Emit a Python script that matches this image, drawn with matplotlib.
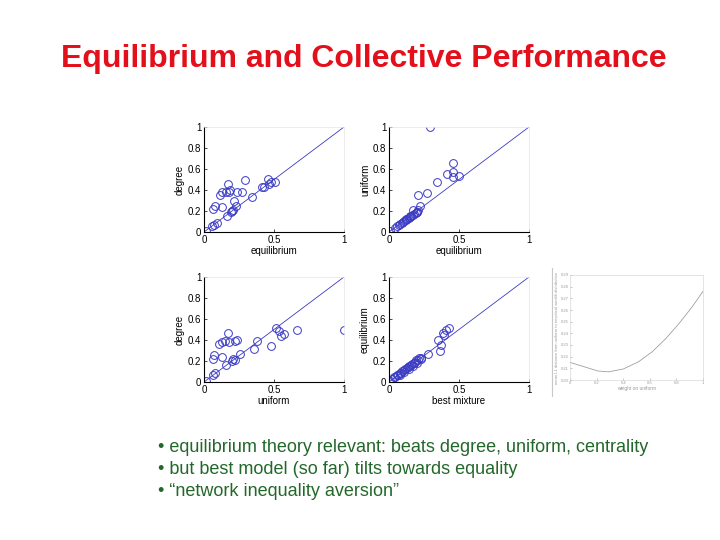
import matplotlib.pyplot as plt
from matplotlib.lines import Line2D

plt.rcParams['font.family'] = ['Liberation Sans', 'DejaVu Sans']

# panel 1: equilibrium vs degree
p1_x = [0.067, 0.079, 0.126, 0.114, 0.131, 0.155, 0.174, 0.181, 0.186, 0.238, 0.274, 0.293, 0.217, 0.226,
        0.014, 0.060, 0.074, 0.090, 0.162, 0.190, 0.202, 0.210, 0.345, 0.417, 0.430, 0.460, 0.467, 0.476, 0.507]
p1_y = [0.216, 0.248, 0.241, 0.356, 0.378, 0.384, 0.457, 0.381, 0.400, 0.384, 0.384, 0.500, 0.298, 0.250,
        0.010, 0.057, 0.067, 0.083, 0.152, 0.194, 0.203, 0.210, 0.330, 0.432, 0.432, 0.505, 0.457, 0.479, 0.479]

# panel 2: equilibrium vs uniform
p2_x = [0.293, 0.460, 0.417, 0.455, 0.460, 0.500, 0.340, 0.210, 0.269, 0.221, 0.174, 0.198,
        0.010, 0.040, 0.060, 0.070, 0.080, 0.090, 0.100, 0.110, 0.120, 0.130, 0.140, 0.150,
        0.160, 0.170, 0.180, 0.190, 0.200, 0.210, 0.120, 0.150]
p2_y = [1.000, 0.660, 0.552, 0.568, 0.527, 0.533, 0.473, 0.352, 0.368, 0.248, 0.210, 0.194,
        0.010, 0.040, 0.055, 0.065, 0.075, 0.085, 0.095, 0.105, 0.115, 0.125, 0.135, 0.145,
        0.155, 0.165, 0.175, 0.185, 0.195, 0.205, 0.125, 0.150]

# panel 3: uniform vs degree
p3_x = [0.062, 0.074, 0.126, 0.110, 0.126, 0.150, 0.174, 0.181, 0.221, 0.238,
        0.014, 0.062, 0.079, 0.157, 0.198, 0.210, 0.221, 0.257, 0.376, 0.357, 0.479,
        0.514, 0.536, 0.550, 0.571, 0.662, 1.000]
p3_y = [0.216, 0.257, 0.241, 0.359, 0.384, 0.390, 0.463, 0.384, 0.394, 0.400,
        0.010, 0.067, 0.083, 0.162, 0.203, 0.216, 0.210, 0.263, 0.394, 0.311, 0.343,
        0.511, 0.489, 0.441, 0.457, 0.495, 0.500]

# panel 4: best mixture vs equilibrium
p4_x = [0.007, 0.020, 0.035, 0.045, 0.055, 0.065, 0.075, 0.085, 0.095, 0.105, 0.115, 0.125,
        0.135, 0.145, 0.155, 0.165, 0.175, 0.185, 0.195, 0.205, 0.215, 0.225, 0.080, 0.110,
        0.140, 0.170, 0.200, 0.230, 0.275, 0.364, 0.371, 0.395, 0.383, 0.410, 0.431, 0.352]
p4_y = [0.010, 0.025, 0.045, 0.050, 0.065, 0.070, 0.085, 0.090, 0.105, 0.110, 0.125, 0.130,
        0.145, 0.150, 0.165, 0.170, 0.185, 0.190, 0.205, 0.210, 0.225, 0.230, 0.070, 0.100,
        0.125, 0.155, 0.180, 0.215, 0.270, 0.295, 0.352, 0.448, 0.463, 0.495, 0.517, 0.400]

panels = [
    (p1_x, p1_y, 'equilibrium', 'degree', (204, 127)),
    (p2_x, p2_y, 'equilibrium', 'uniform', (389, 127)),
    (p3_x, p3_y, 'uniform', 'degree', (204, 277)),
    (p4_x, p4_y, 'best mixture', 'equilibrium', (389, 277)),
]

# inset: distance to empirical wealth vs weight on uniform
inset_w = [0.0, 0.21, 0.29, 0.40, 0.515, 0.616, 0.716, 0.817, 0.917, 1.0]
inset_d = [0.2151, 0.2077, 0.2070, 0.2094, 0.2156, 0.2240, 0.2350, 0.2480, 0.2625, 0.2760]
inset_yticks = [0.2, 0.21, 0.22, 0.23, 0.24, 0.25, 0.26, 0.27, 0.28, 0.29]

W, H = 720, 540
blue = '#3a3ac4'


def px_axes(fig, left, top, w, h):
    return fig.add_axes([left / W, 1 - (top + h) / H, w / W, h / H])


fig = plt.figure(figsize=(7.2, 5.4), dpi=100)

fig.text(364 / W, 1 - 59 / H, 'Equilibrium and Collective Performance', color='#e3101b',
         fontsize=23, fontweight='bold', ha='center', va='center')

for xs, ys, xl, yl, (left, top) in panels:
    ax = px_axes(fig, left, top, 140, 105)
    ax.plot([0, 1], [0, 1], color=blue, lw=0.6)
    ax.plot(xs, ys, 'o', mfc='none', mec=blue, ms=5.6, mew=0.7)
    ax.set_xlim(0, 1)
    ax.set_ylim(0, 1)
    ax.set_xticks([0, 0.5, 1])
    ax.set_xticklabels(['0', '0.5', '1'])
    ax.set_yticks([0, 0.2, 0.4, 0.6, 0.8, 1])
    ax.set_yticklabels(['0', '0.2', '0.4', '0.6', '0.8', '1'])
    ax.tick_params(direction='in', length=2.5, width=0.5, labelsize=7, pad=2)
    ax.set_xlabel(xl, fontsize=7, labelpad=1)
    ax.set_ylabel(yl, fontsize=7, labelpad=2)
    for s in ['left', 'bottom']:
        ax.spines[s].set_linewidth(0.8)
    for s in ['top', 'right']:
        ax.spines[s].set_color('#e4e4e4')
        ax.spines[s].set_linewidth(0.5)

# inset picture on the right
fig.add_artist(Line2D([552 / W, 552 / W], [1 - 268 / H, 1 - 396 / H], color='#c8c8c8', lw=0.8))
ax = px_axes(fig, 570, 275, 133, 105)
grey = '#9a9a9a'
ax.plot(inset_w, inset_d, color='#a0a0a0', lw=0.6)
ax.set_xlim(0, 1)
ax.set_ylim(0.2, 0.29)
ax.set_xticks([0, 0.2, 0.4, 0.6, 0.8, 1])
ax.set_xticklabels(['0', '0.2', '0.4', '0.6', '0.8', '1'])
ax.set_yticks(inset_yticks)
ax.tick_params(direction='in', length=1.5, width=0.4, labelsize=3, pad=1, colors=grey)
ax.set_xlabel('weight on uniform', fontsize=3.5, color=grey, labelpad=0.5)
ax.set_ylabel('mean L1 distance from uniform to empirical wealth distribution', fontsize=3, color=grey, labelpad=1)
for s in ax.spines.values():
    s.set_color('#d0d0d0')
    s.set_linewidth(0.4)

bullets = [
    '\u2022 equilibrium theory relevant: beats degree, uniform, centrality',
    '\u2022 but best model (so far) tilts towards equality',
    '\u2022 \u201cnetwork inequality aversion\u201d',
]
for i, line in enumerate(bullets):
    fig.text(158 / W, 1 - (447 + 22 * i) / H, line, color='#23682a', fontsize=13,
             ha='left', va='center')

fig.savefig('out.png', dpi=100)
